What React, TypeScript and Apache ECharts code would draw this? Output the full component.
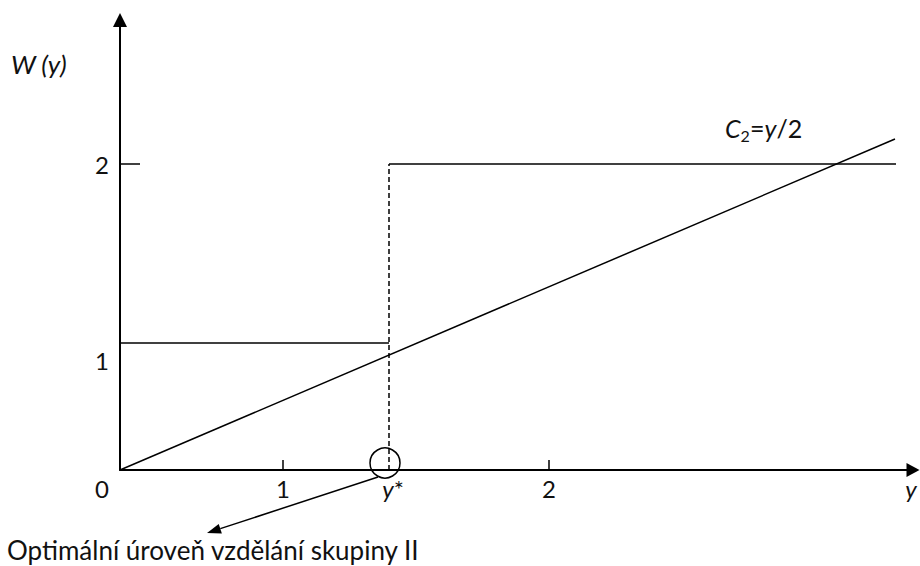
import { useEffect, useRef } from 'react';
import * as echarts from 'echarts';

// Schematic sketch units (the reference drawing is not to scale)
const X_MAX = 793;
const Y_MAX = 450;
const yStar = 269;
const wLow = 127;
const wHigh = 306;
const xEnd = 776;

const costLine = [[0, 0], [775, 331]];
const lowWage = [[0, wLow], [yStar, wLow]];
const highWage = [[yStar, wHigh], [xEnd, wHigh]];
const yStarDrop = [[yStar, 0], [yStar, wHigh]];

const xTickPos = [163, 429];
const xLabelPos = [0, 163, yStar, 429, 791];
const xLabelText = ['{z|0}', '1', '{s|y}*', '2', '{i|y}'];
const yTickPos = [wHigh];
const yLabelPos = [110, wHigh];
const yLabelText = ['1', '2'];

const FONT = 'Lato';

export default function App() {
  const ref = useRef<HTMLDivElement>(null);
  useEffect(() => {
    const chart = echarts.init(ref.current!, null, { renderer: 'svg' });
    const lineSeries = (data: number[][], dashed = false) => ({
      type: 'line',
      data,
      showSymbol: false,
      symbol: 'none',
      silent: true,
      clip: false,
      lineStyle: { color: '#000', width: 1.5, type: dashed ? [5, 3] : 'solid' },
    });
    const labelFont = { fontFamily: FONT, fontSize: 24, color: '#111' };
    chart.setOption({
      animation: false,
      backgroundColor: '#fff',
      grid: { left: 120, right: 7, top: 20, bottom: 96, outerBoundsMode: 'none', containLabel: false },
      xAxis: {
        type: 'value',
        min: 0,
        max: X_MAX,
        splitLine: { show: false },
        axisLine: {
          show: true,
          symbol: ['none', 'triangle'],
          symbolSize: [14, 13],
          lineStyle: { color: '#000', width: 2 },
        },
        axisTick: { show: true, inside: true, length: 10, customValues: xTickPos, lineStyle: { color: '#000', width: 1.5 } },
        axisLabel: {
          ...labelFont,
          margin: 6,
          customValues: xLabelPos,
          formatter: (v: number) => xLabelText[xLabelPos.indexOf(v)] ?? '',
          rich: {
            z: { ...labelFont, padding: [0, 36, 0, 0] },
            s: { ...labelFont, fontStyle: 'italic', padding: [0, 0, 0, 8] },
            i: { ...labelFont, fontStyle: 'italic' },
          },
        },
      },
      yAxis: {
        type: 'value',
        min: 0,
        max: Y_MAX,
        splitLine: { show: false },
        axisLine: {
          show: true,
          symbol: ['none', 'triangle'],
          symbolSize: [14, 14],
          lineStyle: { color: '#000', width: 2 },
        },
        axisTick: { show: true, inside: true, length: 20, customValues: yTickPos, lineStyle: { color: '#000', width: 1.5 } },
        axisLabel: {
          ...labelFont,
          margin: 11,
          customValues: yLabelPos,
          formatter: (v: number) => yLabelText[yLabelPos.indexOf(v)] ?? '',
        },
      },
      series: [
        lineSeries(lowWage),
        lineSeries(highWage),
        lineSeries(yStarDrop, true),
        lineSeries(costLine),
      ],
    });

    const [sx, sy] = chart.convertToPixel({ gridIndex: 0 }, [yStar, 0]) as number[];
    const [ex, ey] = chart.convertToPixel({ gridIndex: 0 }, costLine[1]) as number[];
    // annotation arrow from the circle to the caption
    const start = [sx - 11, sy + 7];
    const tip = [207, 533];
    const dx = tip[0] - start[0];
    const dy = tip[1] - start[1];
    const len = Math.hypot(dx, dy);
    const ux = dx / len;
    const uy = dy / len;
    const hl = 14;
    const hw = 5;
    const bx = tip[0] - hl * ux;
    const by = tip[1] - hl * uy;
    const nx = -uy;
    const ny = ux;

    chart.setOption({
      graphic: [
        {
          type: 'text',
          x: 11,
          y: 64,
          style: { text: 'W (y)', font: `italic 26px ${FONT}`, fill: '#111', verticalAlign: 'middle' },
        },
        {
          type: 'text',
          x: ex - 170,
          y: ey - 11,
          style: {
            text: '{i|C}{sub|2}={i|y}/2',
            fill: '#111',
            verticalAlign: 'middle',
            rich: {
              i: { fontFamily: FONT, fontSize: 25, fontStyle: 'italic', fill: '#111' },
              sub: { fontFamily: FONT, fontSize: 16, fill: '#111', padding: [14, 0, 0, 0] },
            },
            font: `25px ${FONT}`,
          },
        },
        {
          type: 'circle',
          shape: { cx: sx - 4, cy: sy - 7, r: 15 },
          style: { fill: 'none', stroke: '#000', lineWidth: 1.5 },
        },
        {
          type: 'line',
          shape: { x1: start[0], y1: start[1], x2: bx, y2: by },
          style: { stroke: '#000', lineWidth: 1.5 },
        },
        {
          type: 'polygon',
          shape: { points: [tip, [bx + hw * nx, by + hw * ny], [bx - hw * nx, by - hw * ny]] },
          style: { fill: '#000' },
        },
        {
          type: 'text',
          x: 7,
          y: 550,
          style: { text: 'Optimální úroveň vzdělání skupiny II', font: `26px ${FONT}`, fill: '#111', verticalAlign: 'middle' },
        },
      ],
    });
    return () => chart.dispose();
  }, []);
  return <div ref={ref} style={{ position: 'absolute', left: 0, top: 0, width: 920, height: 566 }} />;
}
